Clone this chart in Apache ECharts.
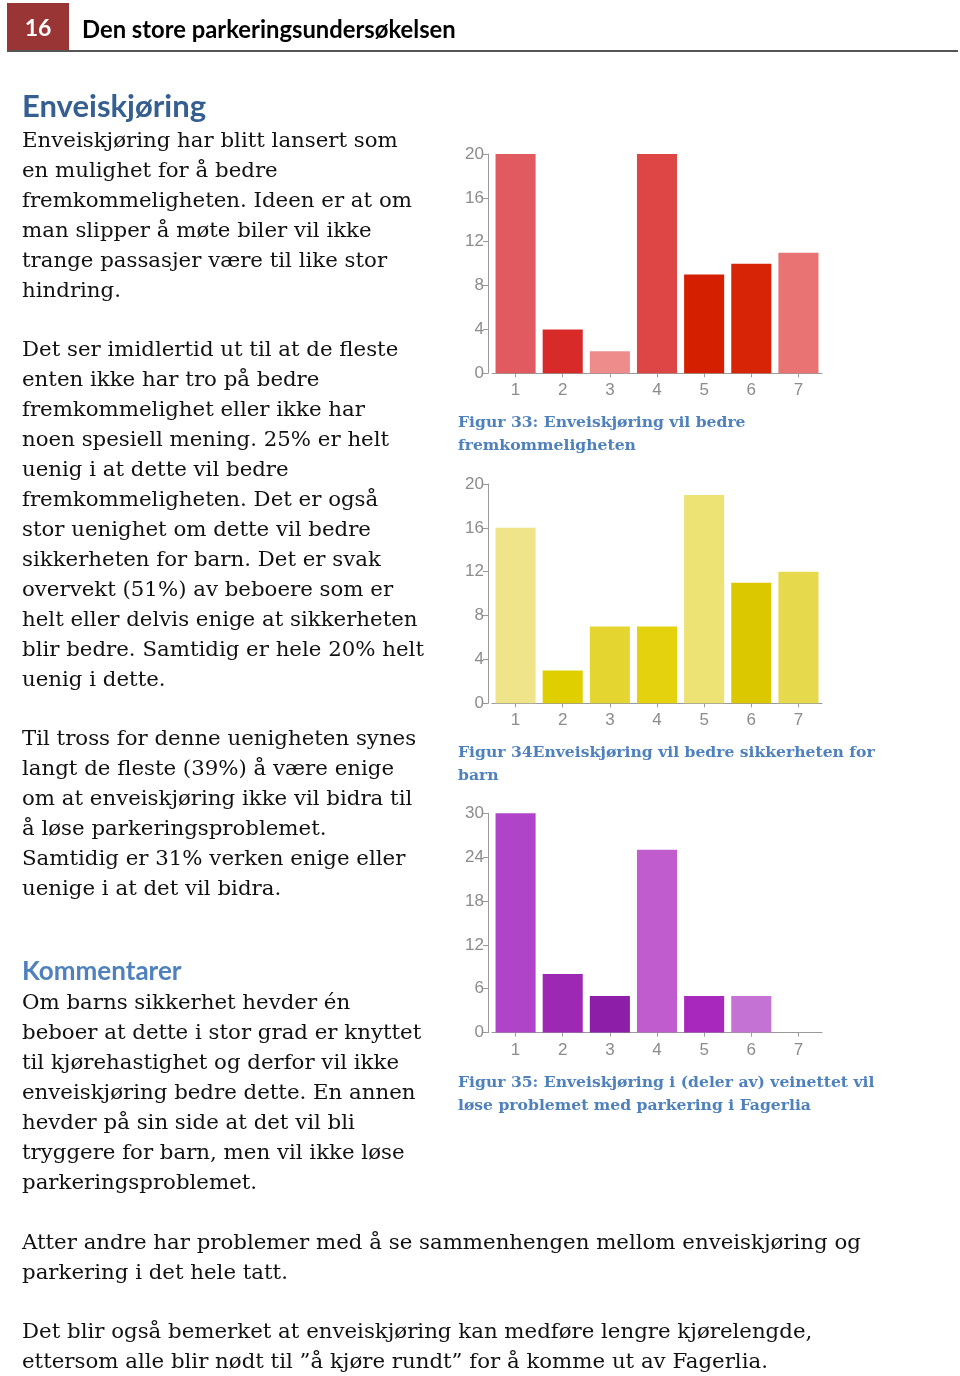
<!DOCTYPE html>
<html>
<head>
<meta charset="utf-8">
<script src="https://cdn.jsdelivr.net/npm/echarts@6/dist/echarts.min.js"></script>
<style>
  html, body { margin:0; padding:0; background:#fff; }
  #page { position:relative; width:960px; height:1376px; overflow:hidden; }
  #chart { position:absolute; left:0; top:0; width:960px; height:1376px; }
  .t { position:absolute; white-space:nowrap; color:#111; }
  .body { font-family:"DejaVu Serif", serif; font-size:21.3px; line-height:30px; }
  .h1 { font-family:Lato, "Open Sans", sans-serif; font-weight:700; color:#365f91; }
  .cap { font-family:"DejaVu Serif", serif; font-weight:700; font-size:15.6px; line-height:23px; color:#4f81bd; }
</style>
</head>
<body>
<div id="page">
  <div id="chart"></div>
  <div style="position:absolute;left:7px;top:3px;width:62px;height:49px;background:#9a3535;"></div>
  <div class="t" style="left:7px;top:3px;width:62px;height:49px;line-height:49px;text-align:center;color:#fff;font-family:Lato,sans-serif;font-weight:700;font-size:23px;">16</div>
  <div class="t" style="left:82px;top:13px;line-height:32px;font-family:Lato,sans-serif;font-weight:700;font-size:23.8px;color:#000;">Den store parkeringsundersøkelsen</div>
  <div style="position:absolute;left:7px;top:50px;width:951px;height:2px;background:#555;"></div>

  <div class="t h1" style="left:22px;top:85px;font-size:31px;line-height:40px;">Enveiskjøring</div>
  <div class="t body" style="left:22px;top:125px;">Enveiskjøring har blitt lansert som<br>en mulighet for å bedre<br>fremkommeligheten. Ideen er at om<br>man slipper å møte biler vil ikke<br>trange passasjer være til like stor<br>hindring.</div>
  <div class="t body" style="left:22px;top:334px;">Det ser imidlertid ut til at de fleste<br>enten ikke har tro på bedre<br>fremkommelighet eller ikke har<br>noen spesiell mening. 25% er helt<br>uenig i at dette vil bedre<br>fremkommeligheten. Det er også<br>stor uenighet om dette vil bedre<br>sikkerheten for barn. Det er svak<br>overvekt (51%) av beboere som er<br>helt eller delvis enige at sikkerheten<br>blir bedre. Samtidig er hele 20% helt<br>uenig i dette.</div>
  <div class="t body" style="left:22px;top:723px;">Til tross for denne uenigheten synes<br>langt de fleste (39%) å være enige<br>om at enveiskjøring ikke vil bidra til<br>å løse parkeringsproblemet.<br>Samtidig er 31% verken enige eller<br>uenige i at det vil bidra.</div>
  <div class="t h1" style="left:22px;top:953px;font-size:26px;line-height:34px;color:#4f81bd;">Kommentarer</div>
  <div class="t body" style="left:22px;top:987px;">Om barns sikkerhet hevder én<br>beboer at dette i stor grad er knyttet<br>til kjørehastighet og derfor vil ikke<br>enveiskjøring bedre dette. En annen<br>hevder på sin side at det vil bli<br>tryggere for barn, men vil ikke løse<br>parkeringsproblemet.</div>
  <div class="t body" style="left:22px;top:1227px;">Atter andre har problemer med å se sammenhengen mellom enveiskjøring og<br>parkering i det hele tatt.</div>
  <div class="t body" style="left:22px;top:1316px;">Det blir også bemerket at enveiskjøring kan medføre lengre kjørelengde,<br>ettersom alle blir nødt til ”å kjøre rundt” for å komme ut av Fagerlia.</div>

  <div class="t cap" style="left:458px;top:410px;">Figur 33: Enveiskjøring vil bedre<br>fremkommeligheten</div>
  <div class="t cap" style="left:458px;top:740px;">Figur 34Enveiskjøring vil bedre sikkerheten for<br>barn</div>
  <div class="t cap" style="left:458px;top:1070px;">Figur 35: Enveiskjøring i (deler av) veinettet vil<br>løse problemet med parkering i Fagerlia</div>
</div>
<script>
// ---- data ----
const categories = ['1', '2', '3', '4', '5', '6', '7'];
const fig33Values = [20, 4, 2, 20, 9, 10, 11];
const fig34Values = [16, 3, 7, 7, 19, 11, 12];
const fig35Values = [30, 8, 5, 25, 5, 5, 0];
const fig33Ticks = [0, 4, 8, 12, 16, 20];
const fig34Ticks = [0, 4, 8, 12, 16, 20];
const fig35Ticks = [0, 6, 12, 18, 24, 30];

// ---- styles ----
const fig33Colors = ['#e05a5f', '#d92a2a', '#ee8c8c', '#de4545', '#d42000', '#d72406', '#e97373'];
const fig34Colors = ['#efe48a', '#e0cf00', '#e5d530', '#e3d20d', '#ede375', '#dcc800', '#e6da4c'];
const fig35Colors = ['#b044c8', '#9c28b4', '#8c1ea8', '#c05ccd', '#a828be', '#c472d4', '#c472d4'];

const chart = echarts.init(document.getElementById('chart'), null, { renderer: 'canvas' });
const gridTops = [154, 484, 813.3];
const gridH = 219.3;
const labelStyle = { color: '#8c8c8c', fontSize: 17, fontFamily: 'Liberation Sans, Arial, sans-serif' };
const axisLine = { show: true, lineStyle: { color: '#9a9a9a', width: 1 } };

const sets = [
  { v: fig33Values, c: fig33Colors, t: fig33Ticks },
  { v: fig34Values, c: fig34Colors, t: fig34Ticks },
  { v: fig35Values, c: fig35Colors, t: fig35Ticks }
];

const option = {
  animation: false,
  grid: gridTops.map(t => ({ left: 492, top: t, width: 330, height: gridH })),
  xAxis: sets.map((s, i) => ({
    type: 'category', gridIndex: i, data: categories,
    axisLine: axisLine,
    axisTick: { show: true, alignWithLabel: true, length: 4, lineStyle: { color: '#9a9a9a' } },
    axisLabel: Object.assign({ margin: 9 }, labelStyle)
  })),
  yAxis: sets.map((s, i) => ({
    type: 'value', gridIndex: i, min: s.t[0], max: s.t[s.t.length - 1],
    interval: s.t[1] - s.t[0], offset: 4,
    axisLine: axisLine, axisTick: { show: true, length: 5, lineStyle: { color: '#9a9a9a' } },
    splitLine: { show: false },
    axisLabel: Object.assign({ margin: 4 }, labelStyle)
  })),
  series: sets.map((s, i) => ({
    type: 'bar', xAxisIndex: i, yAxisIndex: i, barCategoryGap: '15%',
    data: s.v.map((val, k) => ({ value: val, itemStyle: { color: s.c[k] } }))
  }))
};
chart.setOption(option);
</script>
</body>
</html>
